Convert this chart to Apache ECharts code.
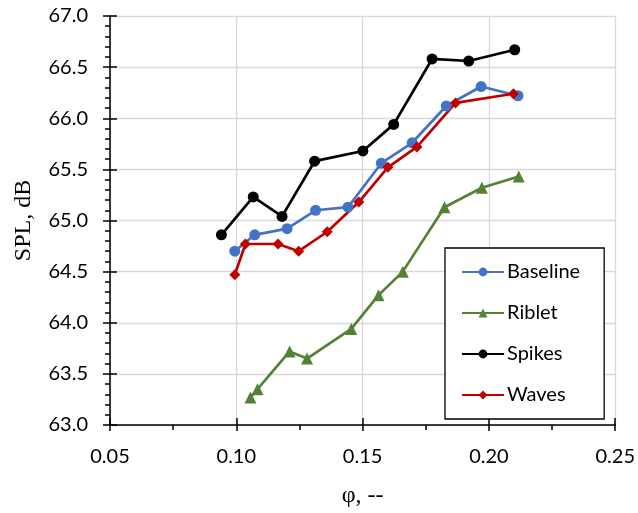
<!DOCTYPE html>
<html>
<head>
<meta charset="utf-8">
<script src="https://cdn.jsdelivr.net/npm/echarts@6/dist/echarts.min.js"></script>
<style>
  html, body { margin: 0; padding: 0; background: #fff; }
  #chart { width: 638px; height: 513px; }
</style>
</head>
<body>
<div id="chart"></div>
<script>
// values: [phi, SPL]
const baseline = [
  [0.0994, 64.70], [0.1073, 64.86], [0.1201, 64.92], [0.1314, 65.10], [0.1442, 65.13],
  [0.1574, 65.56], [0.1696, 65.76], [0.1831, 66.12], [0.1969, 66.31], [0.2115, 66.22]
];
const riblet = [
  [0.1056, 63.27], [0.1084, 63.35], [0.1211, 63.72], [0.1280, 63.65], [0.1455, 63.94],
  [0.1563, 64.27], [0.1659, 64.50], [0.1824, 65.13], [0.1972, 65.32], [0.2118, 65.43]
];
const spikes = [
  [0.0941, 64.86], [0.1067, 65.23], [0.1181, 65.04], [0.1310, 65.58], [0.1501, 65.68],
  [0.1623, 65.94], [0.1775, 66.58], [0.1920, 66.56], [0.2102, 66.67]
];
const waves = [
  [0.0994, 64.47], [0.1036, 64.77], [0.1165, 64.77], [0.1247, 64.70], [0.1360, 64.89],
  [0.1485, 65.18], [0.1600, 65.52], [0.1715, 65.72], [0.1868, 66.15], [0.2097, 66.24]
];

const chart = echarts.init(document.getElementById('chart'));

const labelFont = 'Lato';
const nameFont = '"Liberation Serif", "DejaVu Serif", serif';

function mkSeries(name, data, color, symbol, size) {
  return {
    name: name,
    type: 'line',
    data: data,
    symbol: symbol,
    symbolSize: size,
    lineStyle: { color: color, width: 2.7 },
    itemStyle: { color: color },
    emphasis: { disabled: true },
    animation: false
  };
}

const option = {
  backgroundColor: '#ffffff',
  animation: false,
  grid: { left: 110, right: 22, top: 16, bottom: 87 },
  legend: {
    orient: 'vertical',
    left: 445,
    top: 248,
    backgroundColor: '#fff',
    borderColor: '#000',
    borderWidth: 1.3,
    padding: [14, 24, 14, 16],
    itemWidth: 42,
    itemHeight: 11,
    itemGap: 21,
    textStyle: { fontFamily: labelFont, fontSize: 20, color: '#000', padding: [0, 0, 0, -2] },
    data: ['Baseline', 'Riblet', 'Spikes', 'Waves']
  },
  xAxis: [{
    type: 'value',
    min: 0.05,
    max: 0.25,
    interval: 0.05,
    name: 'φ, --',
    nameLocation: 'middle',
    nameGap: 59,
    nameTextStyle: { fontFamily: nameFont, fontSize: 24, color: '#000' },
    axisLine: { show: true, onZero: false, lineStyle: { color: '#000', width: 1.5 } },
    axisTick: { show: true, length: 6, lineStyle: { color: '#000', width: 1.5 } },
    minorTick: { show: true, splitNumber: 2, length: 5, lineStyle: { color: '#000', width: 1.5 } },
    axisLabel: {
      fontFamily: labelFont, fontSize: 20, color: '#000', margin: 22,
      formatter: v => v.toFixed(2)
    },
    splitLine: { show: true, lineStyle: { color: '#d9d9d9', width: 1.3 } }
  }, {
    // inner half of the major ticks
    type: 'value',
    position: 'bottom',
    min: 0.05,
    max: 0.25,
    interval: 0.05,
    axisLine: { show: false, onZero: false },
    axisTick: { show: true, inside: true, length: 7, lineStyle: { color: '#000', width: 1.5 } },
    axisLabel: { show: false },
    splitLine: { show: false }
  }],
  yAxis: [{
    type: 'value',
    min: 63,
    max: 67,
    interval: 0.5,
    name: 'SPL, dB',
    nameLocation: 'middle',
    nameGap: 74,
    nameTextStyle: { fontFamily: nameFont, fontSize: 24, color: '#000' },
    axisLine: { show: true, onZero: false, lineStyle: { color: '#000', width: 1.5 } },
    axisTick: { show: true, length: 7, lineStyle: { color: '#000', width: 1.5 } },
    minorTick: { show: true, splitNumber: 5, length: 5, lineStyle: { color: '#000', width: 1.5 } },
    axisLabel: {
      fontFamily: labelFont, fontSize: 20, color: '#000', margin: 22,
      formatter: v => v.toFixed(1)
    },
    splitLine: { show: true, lineStyle: { color: '#d9d9d9', width: 1.3 } }
  }, {
    type: 'value',
    position: 'left',
    min: 63,
    max: 67,
    interval: 0.5,
    axisLine: { show: false, onZero: false },
    axisTick: { show: true, inside: true, length: 7, lineStyle: { color: '#000', width: 1.5 } },
    axisLabel: { show: false },
    splitLine: { show: false }
  }],
  series: [
    mkSeries('Baseline', baseline, '#4472C4', 'circle', 11),
    mkSeries('Riblet', riblet, '#548235', 'triangle', 12),
    mkSeries('Spikes', spikes, '#000000', 'circle', 11),
    mkSeries('Waves', waves, '#C00000', 'diamond', 11)
  ]
};

chart.setOption(option);
</script>
</body>
</html>
